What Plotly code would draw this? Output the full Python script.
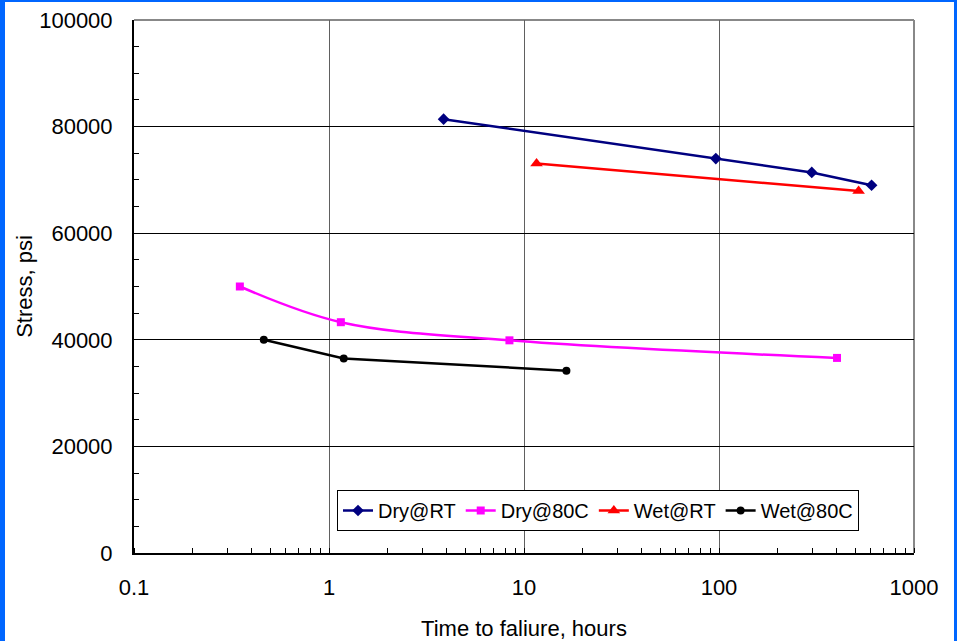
import plotly.graph_objects as go

# ---- data ----
dry_rt_x = [3.87, 96.3, 299, 606]
dry_rt_y = [81400, 74000, 71400, 69000]

dry_80_x = [0.349, 1.15, 8.42, 403]
dry_80_y = [50000, 43300, 39900, 36600]

wet_rt_x = [11.6, 520]
wet_rt_y = [73100, 67900]

wet_80_x = [0.463, 1.19, 16.5]
wet_80_y = [40000, 36500, 34200]

x_tickvals = [0.1, 1, 10, 100, 1000]
x_ticktext = ["0.1", "1", "10", "100", "1000"]
y_tickvals = [0, 20000, 40000, 60000, 80000, 100000]

W, H = 957, 641
ML, MR, MT, MB = 134, 43, 20, 88
PW, PH = W - ML - MR, H - MT - MB

FONT = "Liberation Sans, Arial, sans-serif"

fig = go.Figure()
fig.add_trace(go.Scatter(x=dry_rt_x, y=dry_rt_y, name="Dry@RT", mode="lines+markers",
                         line=dict(color="#000080", width=2.5),
                         marker=dict(symbol="diamond", size=9, color="#000080")))
fig.add_trace(go.Scatter(x=dry_80_x, y=dry_80_y, name="Dry@80C", mode="lines+markers",
                         line=dict(color="#ff00ff", width=2.5, shape="spline", smoothing=1),
                         marker=dict(symbol="square", size=8, color="#ff00ff")))
fig.add_trace(go.Scatter(x=wet_rt_x, y=wet_rt_y, name="Wet@RT", mode="lines+markers",
                         line=dict(color="#ff0000", width=2.5),
                         marker=dict(symbol="triangle-up", size=11, color="#ff0000")))
fig.add_trace(go.Scatter(x=wet_80_x, y=wet_80_y, name="Wet@80C", mode="lines+markers",
                         line=dict(color="#000000", width=2.5),
                         marker=dict(symbol="circle", size=8, color="#000000")))

def px_x(p):
    return (p - ML) / PW

def px_y(p):
    return (H - MB - p) / PH

blue = "#0066ff"
shapes = [
    # outer blue frame
    dict(type="rect", xref="paper", yref="paper", x0=px_x(0), x1=px_x(5), y0=px_y(H), y1=px_y(0),
         fillcolor=blue, line=dict(width=0), layer="above"),
    dict(type="rect", xref="paper", yref="paper", x0=px_x(0), x1=px_x(W), y0=px_y(2), y1=px_y(0),
         fillcolor=blue, line=dict(width=0), layer="above"),
    dict(type="rect", xref="paper", yref="paper", x0=px_x(954), x1=px_x(W), y0=px_y(H), y1=px_y(0),
         fillcolor=blue, line=dict(width=0), layer="above"),
    # gray top/right plot frame
    dict(type="line", xref="paper", yref="paper", x0=0, x1=1, y0=1, y1=1,
         line=dict(color="#888888", width=2), layer="below"),
    dict(type="line", xref="paper", yref="paper", x0=1, x1=1, y0=0, y1=1,
         line=dict(color="#888888", width=2), layer="below"),
]

fig.update_layout(
    width=W, height=H,
    margin=dict(l=ML, r=MR, t=MT, b=MB),
    paper_bgcolor="white", plot_bgcolor="white",
    font=dict(family=FONT, size=22, color="black"),
    showlegend=True,
    legend=dict(orientation="h", x=px_x(337), y=px_y(490), xanchor="left", yanchor="top",
                bgcolor="white", bordercolor="black", borderwidth=1,
                font=dict(size=20), itemwidth=30, tracegroupgap=0),
    shapes=shapes,
    xaxis=dict(type="log", range=[-1, 3], tickvals=x_tickvals, ticktext=x_ticktext,
               showgrid=True, gridcolor="#606060", gridwidth=1, automargin=False,
               showline=True, linecolor="black", linewidth=2, mirror=False,
               ticks="", zeroline=False, ticklabelstandoff=14,
               minor=dict(ticks="inside", ticklen=5, tickcolor="black", showgrid=False, dtick="D1"),
               title=dict(text="Time to faliure, hours", font=dict(size=22), standoff=22)),
    yaxis=dict(range=[0, 100000], tickvals=y_tickvals, tickformat="d",
               showgrid=True, gridcolor="black", gridwidth=1, automargin=False,
               showline=True, linecolor="black", linewidth=2, mirror=False,
               ticks="inside", ticklen=6, tickcolor="black", zeroline=False,
               ticklabelstandoff=15,
               minor=dict(dtick=5000, ticks="inside", ticklen=5, tickcolor="black", showgrid=False),
               title=dict(text="Stress, psi", font=dict(size=22), standoff=0)),
)

fig.write_html("out.html")
